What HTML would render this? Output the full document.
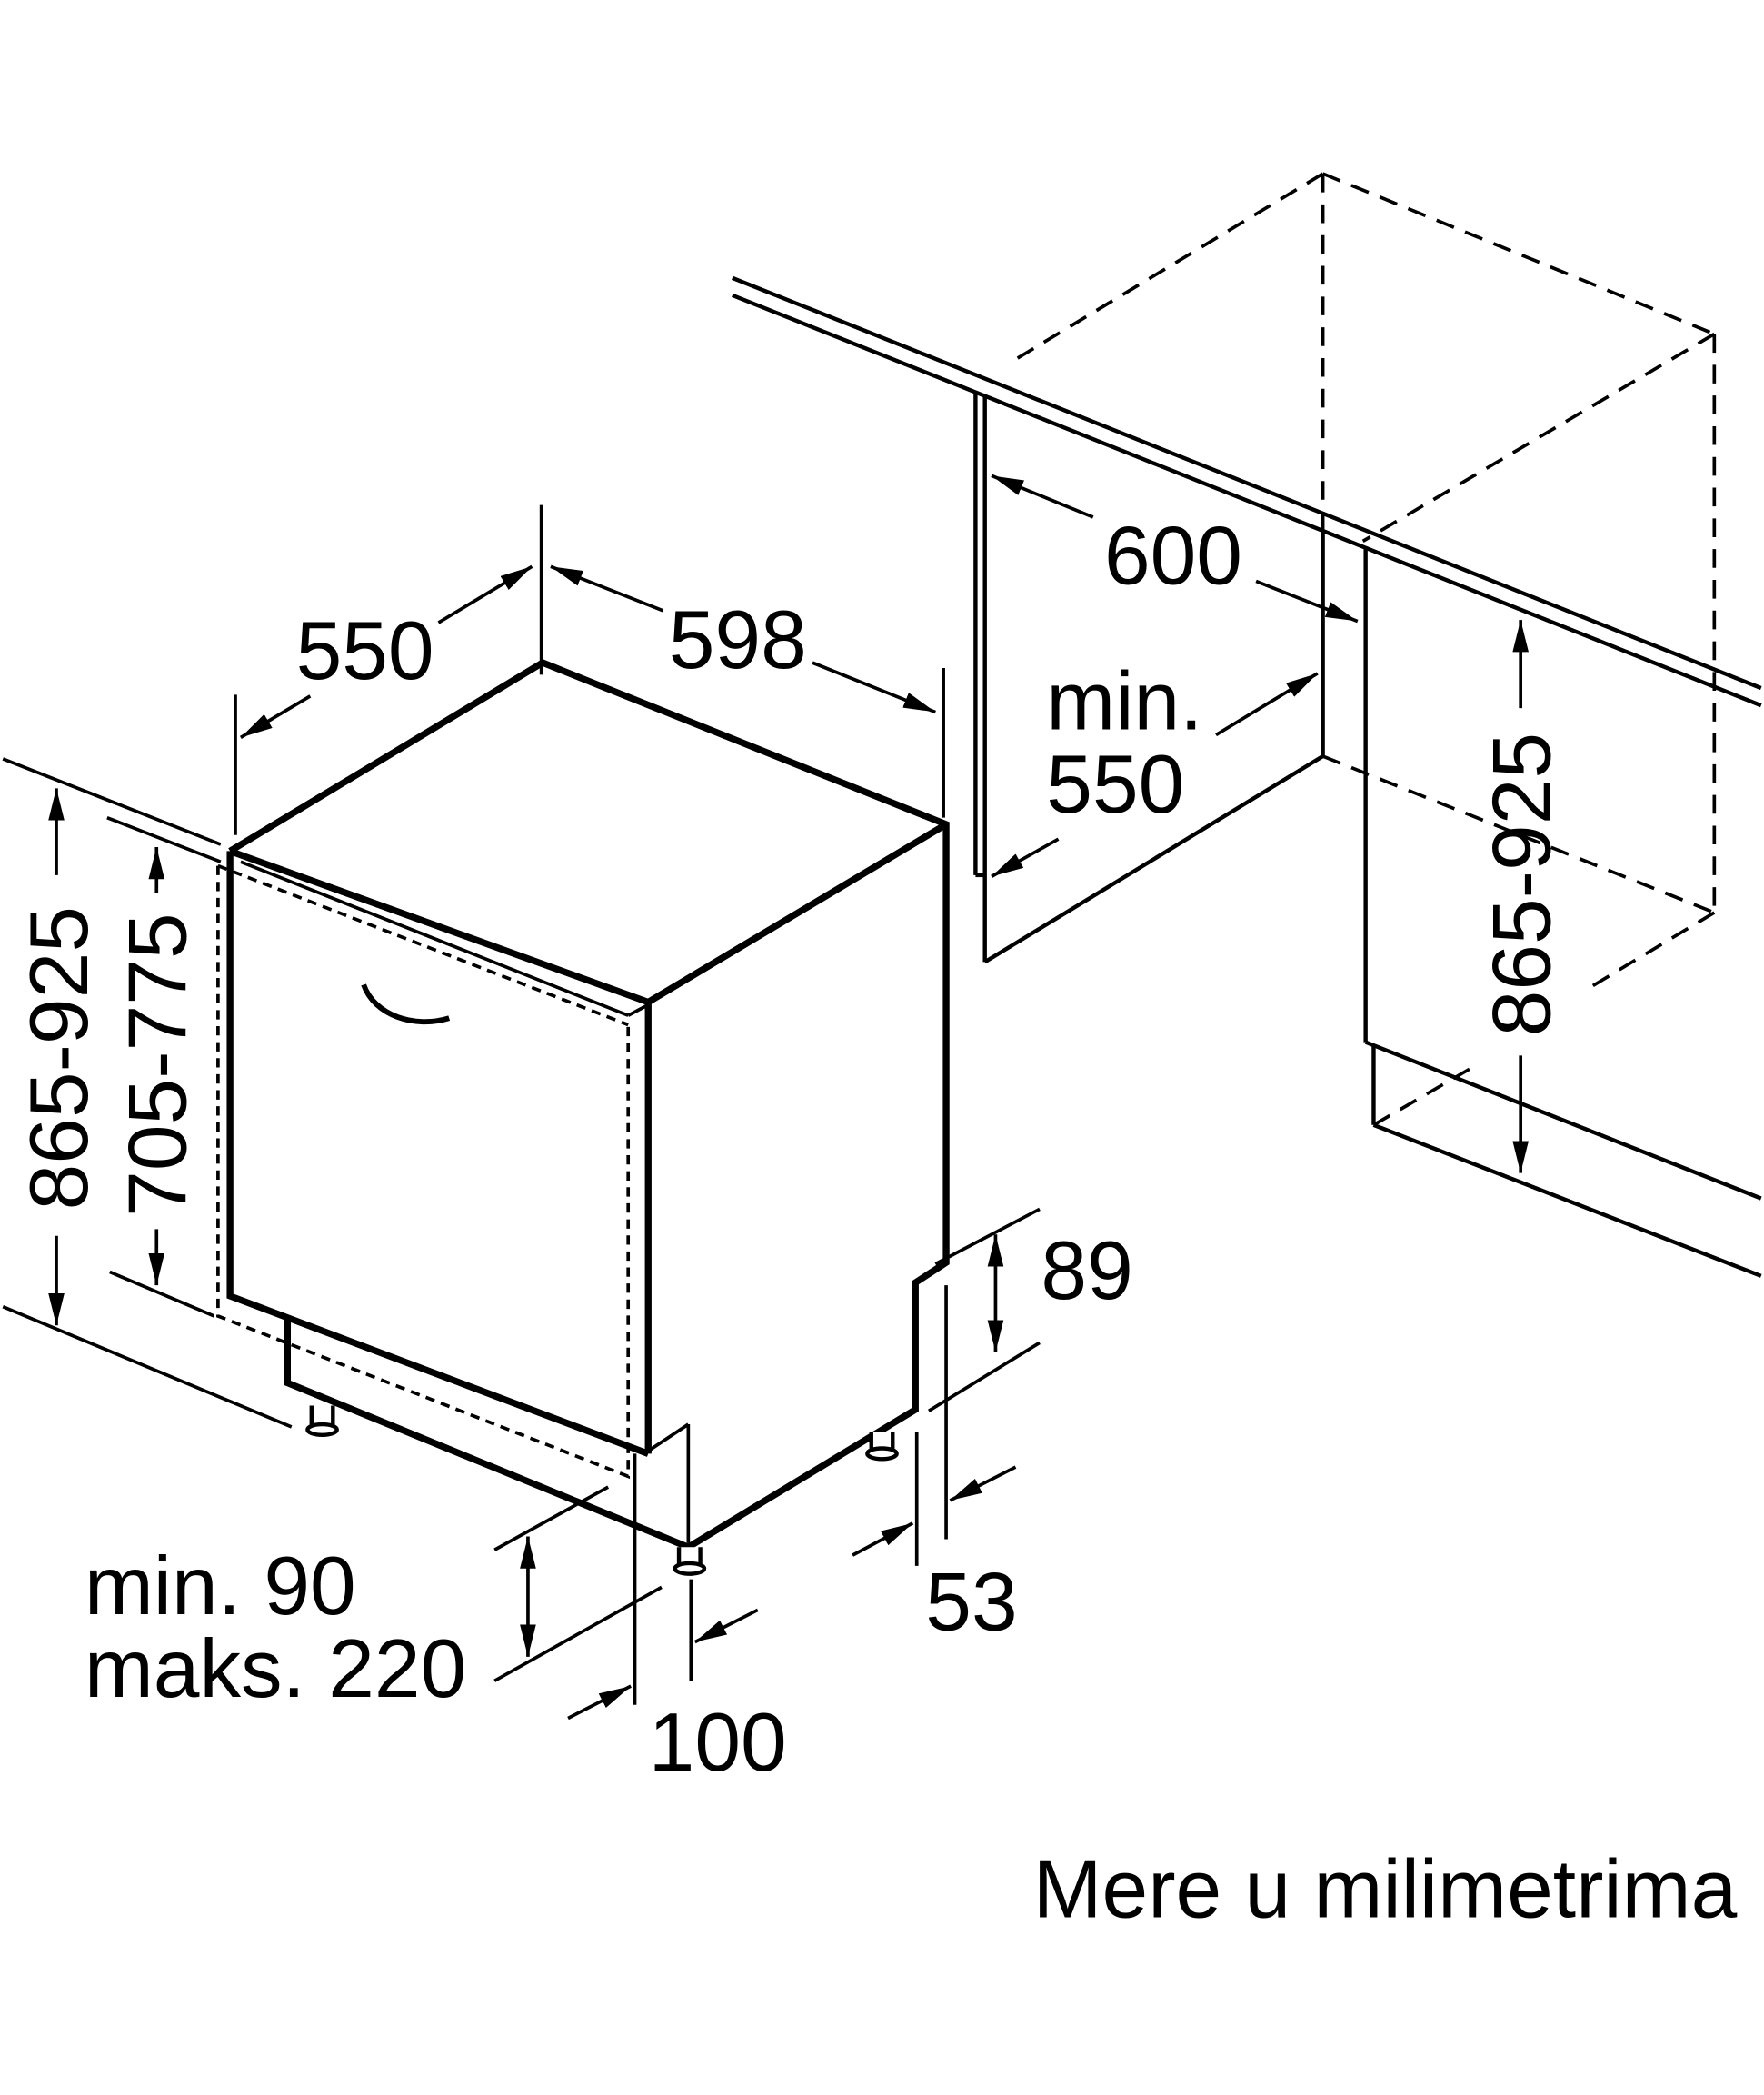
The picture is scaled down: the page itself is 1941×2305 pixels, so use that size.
<!DOCTYPE html>
<html><head><meta charset="utf-8"><style>
html,body{margin:0;padding:0;background:#fff;}
svg{display:block;}
text{font-family:"Liberation Sans",sans-serif;fill:#000;}
</style></head><body>
<svg width="1941" height="2305" viewBox="0 0 1320 1568" xmlns="http://www.w3.org/2000/svg">
<defs>
<marker id="b" viewBox="0 0 24 12" refX="24" refY="6" markerWidth="24" markerHeight="12" orient="auto-start-reverse" markerUnits="userSpaceOnUse"><path d="M0,0 L24,6 L0,12 Z" fill="#000"/></marker>
</defs>
<rect width="1320" height="1568" fill="#fff"/>
<g fill="none" stroke="#000" stroke-linejoin="miter">
<g stroke-width="3">
<line x1="548" y1="208" x2="1318" y2="515"/>
<line x1="548" y1="221" x2="1318" y2="528"/>
<line x1="730" y1="293" x2="730" y2="655"/>
<line x1="737" y1="296" x2="737" y2="720"/>
<line x1="730" y1="655" x2="737" y2="655"/>
<line x1="737" y1="720" x2="990" y2="566"/>
<line x1="990" y1="398" x2="990" y2="566"/>
<line x1="1022" y1="411" x2="1022" y2="780"/>
<line x1="1022" y1="780" x2="1318" y2="897"/>
<line x1="1028" y1="783" x2="1028" y2="842"/>
<line x1="1028" y1="842" x2="1318" y2="955"/>
</g>
<g stroke-width="2.5" stroke-dasharray="14,9">
<line x1="990" y1="130" x2="1283" y2="250"/>
<line x1="990" y1="130" x2="755" y2="272"/>
<line x1="990" y1="130" x2="990" y2="398"/>
<line x1="1283" y1="250" x2="1283" y2="683"/>
<line x1="1283" y1="250" x2="1020" y2="405"/>
<line x1="990" y1="566" x2="1283" y2="683"/>
<line x1="1283" y1="683" x2="1185" y2="742"/>
<line x1="1028" y1="842" x2="1100" y2="800"/>
</g>
<g stroke-width="5">
<path d="M172,637 L406,496 L708,617 L708,945 L685,960 L685,1055 L515,1158 L215,1035 L215,985"/>
<path d="M172,637 L172,970 L485,1088"/>
<path d="M172,637 L485,750 L708,617"/>
<line x1="485" y1="750" x2="485" y2="1088"/>
</g>
<g stroke-width="2.5">
<line x1="180" y1="645" x2="470" y2="760"/>
<line x1="470" y1="760" x2="485" y2="752"/>
<line x1="515" y1="1066" x2="515" y2="1155"/>
<line x1="485" y1="1086" x2="515" y2="1066"/>
<path d="M272,737 C280,760 310,770 336,762" stroke-width="4"/>
</g>
<g stroke-width="2.5" stroke-dasharray="7,5">
<path d="M163,648 L163,985 L470,1105 L470,767"/>
<line x1="163" y1="648" x2="470" y2="767"/>
</g>
<g stroke-width="3" fill="#fff">
<path d="M233,1052 L233,1068 L249,1068 L249,1052"/><ellipse cx="241" cy="1070" rx="11" ry="4"/>
<path d="M652,1072 L652,1086 L668,1086 L668,1072"/><ellipse cx="660" cy="1088" rx="11" ry="4"/>
<path d="M508,1158 L508,1172 L524,1172 L524,1158"/><ellipse cx="516" cy="1174" rx="11" ry="4"/>
</g>
<g stroke-width="2.5">
<line x1="405" y1="378" x2="405" y2="505"/>
<line x1="176" y1="520" x2="176" y2="625"/>
<line x1="706" y1="500" x2="706" y2="612"/>
<line x1="180" y1="552" x2="232" y2="521" marker-start="url(#b)"/>
<line x1="328" y1="466" x2="398" y2="424" marker-end="url(#b)"/>
<line x1="412" y1="424" x2="496" y2="457" marker-start="url(#b)"/>
<line x1="608" y1="496" x2="700" y2="533" marker-end="url(#b)"/>
<line x1="742" y1="356" x2="818" y2="387" marker-start="url(#b)"/>
<line x1="940" y1="435" x2="1016" y2="465" marker-end="url(#b)"/>
<line x1="910" y1="550" x2="986" y2="504" marker-end="url(#b)"/>
<line x1="792" y1="628" x2="742" y2="656" marker-end="url(#b)"/>
<line x1="1138" y1="464" x2="1138" y2="530" marker-start="url(#b)"/>
<line x1="1138" y1="790" x2="1138" y2="878" marker-end="url(#b)"/>
<line x1="2" y1="568" x2="165" y2="632"/>
<line x1="2" y1="978" x2="218" y2="1068"/>
<line x1="42" y1="590" x2="42" y2="655" marker-start="url(#b)"/>
<line x1="42" y1="925" x2="42" y2="992" marker-end="url(#b)"/>
<line x1="80" y1="612" x2="165" y2="645"/>
<line x1="82" y1="952" x2="160" y2="985"/>
<line x1="117" y1="634" x2="117" y2="668" marker-start="url(#b)"/>
<line x1="117" y1="920" x2="117" y2="962" marker-end="url(#b)"/>
<line x1="700" y1="946" x2="778" y2="905"/>
<line x1="695" y1="1056" x2="778" y2="1005"/>
<line x1="745" y1="924" x2="745" y2="1012" marker-start="url(#b)" marker-end="url(#b)"/>
<line x1="686" y1="1072" x2="686" y2="1172"/>
<line x1="708" y1="962" x2="708" y2="1152"/>
<line x1="638" y1="1164" x2="683" y2="1140" marker-end="url(#b)"/>
<line x1="760" y1="1098" x2="711" y2="1123" marker-end="url(#b)"/>
<line x1="370" y1="1160" x2="455" y2="1113"/>
<line x1="370" y1="1258" x2="495" y2="1188"/>
<line x1="395" y1="1150" x2="395" y2="1240" marker-start="url(#b)" marker-end="url(#b)"/>
<line x1="475" y1="1088" x2="475" y2="1276"/>
<line x1="517" y1="1182" x2="517" y2="1258"/>
<line x1="425" y1="1286" x2="472" y2="1262" marker-end="url(#b)"/>
<line x1="567" y1="1205" x2="520" y2="1229" marker-end="url(#b)"/>
</g>
</g>
<g font-size="62">
<text x="273" y="508" text-anchor="middle">550</text>
<text x="552" y="500" text-anchor="middle">598</text>
<text x="878" y="437" text-anchor="middle">600</text>
<text x="783" y="546">min.</text>
<text x="783" y="608">550</text>
<text transform="translate(1160,662) rotate(-90)" text-anchor="middle">865-925</text>
<text transform="translate(65,792) rotate(-90)" text-anchor="middle">865-925</text>
<text transform="translate(139,797) rotate(-90)" text-anchor="middle">705-775</text>
<text x="779" y="972">89</text>
<text x="727" y="1220" text-anchor="middle">53</text>
<text x="63" y="1208">min. 90</text>
<text x="63" y="1270">maks. 220</text>
<text x="537" y="1325" text-anchor="middle">100</text>
<text x="773" y="1435">Mere u milimetrima</text>
</g>
</svg>
</body></html>
